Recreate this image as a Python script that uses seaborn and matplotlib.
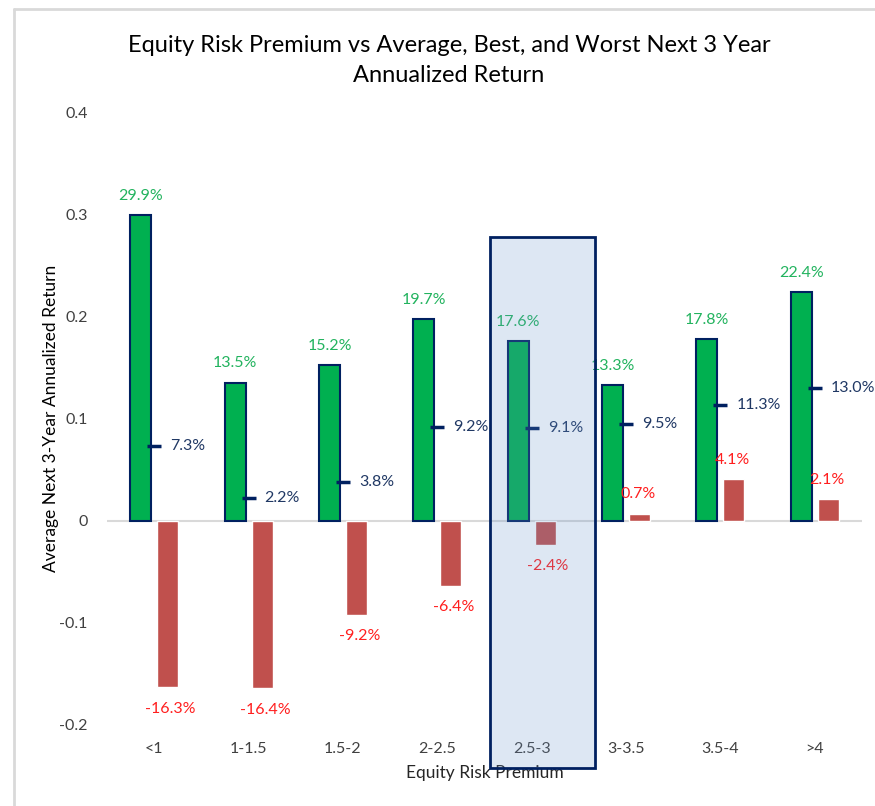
import pandas as pd
import matplotlib.pyplot as plt
import seaborn as sns
from matplotlib.patches import Rectangle
from matplotlib.lines import Line2D
from matplotlib.ticker import FuncFormatter

# --- Data (returns in %) ---
categories = ["<1", "1-1.5", "1.5-2", "2-2.5", "2.5-3", "3-3.5", "3.5-4", ">4"]
best = [29.9, 13.5, 15.2, 19.7, 17.6, 13.3, 17.8, 22.4]
average = [7.3, 2.2, 3.8, 9.2, 9.1, 9.5, 11.3, 13.0]
worst = [-16.3, -16.4, -9.2, -6.4, -2.4, 0.7, 4.1, 2.1]
highlight = "2.5-3"

GREEN = "#00B050"
RED = "#C0504D"
NAVY = "#002060"

df = pd.DataFrame({
    "erp": categories * 2,
    "ret": [v / 100 for v in best] + [v / 100 for v in worst],
    "series": ["Best"] * len(best) + ["Worst"] * len(worst),
})

sns.set_theme(style="white")
plt.rcParams["font.family"] = ["Lato", "DejaVu Sans"]

fig = plt.figure(figsize=(8.75, 8.06), dpi=100)
ax = fig.add_axes([107 / 875, 1 - 725 / 806, 755 / 875, 613 / 806])

sns.barplot(data=df, x="erp", y="ret", hue="series", order=categories,
            palette={"Best": GREEN, "Worst": RED}, width=0.572, gap=0.22,
            saturation=1, legend=False, ax=ax)

# navy outline on the green bars only
for patch in ax.patches[:len(best)]:
    patch.set_edgecolor(NAVY)
    patch.set_linewidth(1.5)

# average markers
sns.scatterplot(x=categories, y=[v / 100 for v in average], marker="_", s=110,
                linewidth=2.5, color=NAVY, zorder=4, ax=ax)

bars_best = ax.patches[:len(best)]
bars_worst = ax.patches[len(best):2 * len(best)]
for i, (b, a, w) in enumerate(zip(best, average, worst)):
    pb = bars_best[i]
    ax.text(pb.get_x() + pb.get_width() / 2, b / 100 + 0.012, f"{b:.1f}%",
            ha="center", va="bottom", color="#22B35E", fontsize=11.5)
    ax.text(i + 0.17, a / 100, f"{a:.1f}%", ha="left", va="center",
            color="#203864", fontsize=11.5)
    pw = bars_worst[i]
    if w < 0:
        ax.text(pw.get_x() + pw.get_width() / 2 + 0.03, w / 100 - 0.014, f"{w:.1f}%",
                ha="center", va="top", color="#FF1F1F", fontsize=11.5)
    else:
        ax.text(pw.get_x() + pw.get_width() / 2 - 0.02, w / 100 + 0.012, f"{w:.1f}%",
                ha="center", va="bottom", color="#FF1F1F", fontsize=11.5)

# highlight box around one category
hi = categories.index(highlight)
box_kw = dict(xy=(hi - 0.443, -0.2416), width=1.112, height=0.5194, clip_on=False)
ax.add_patch(Rectangle(**box_kw, facecolor="#6793C9", alpha=0.22, edgecolor="none", zorder=5))
ax.add_patch(Rectangle(**box_kw, facecolor="none", edgecolor=NAVY, linewidth=2, zorder=6))

ax.axhline(0, color="#D9D9D9", linewidth=1.5, zorder=0)
ax.set_xlim(-0.5, len(categories) - 0.5)
ax.set_ylim(-0.2, 0.4)
ax.set_yticks([-0.2, -0.1, 0, 0.1, 0.2, 0.3, 0.4])
ax.yaxis.set_major_formatter(FuncFormatter(lambda v, _: f"{v:g}"))
ax.tick_params(axis="both", length=0, labelsize=11.5, labelcolor="#404040")
ax.tick_params(axis="x", pad=12)
ax.tick_params(axis="y", pad=14)
sns.despine(ax=ax, left=True, bottom=True)

ax.set_xlabel("Equity Risk Premium", fontsize=12.5, color="#262626", labelpad=7)
ax.set_ylabel("Average Next 3-Year Annualized Return", fontsize=12.5, color="#000000", labelpad=0)

fig.text(0.513, 1 - 45 / 806, "Equity Risk Premium vs Average, Best, and Worst Next 3 Year",
         ha="center", va="center", fontsize=17, color="#000000")
fig.text(0.513, 1 - 75 / 806, "Annualized Return",
         ha="center", va="center", fontsize=17, color="#000000")

# chart area border (partially visible)
fig.add_artist(Line2D([14 / 875, 14 / 875], [0, 1 - 9 / 806], transform=fig.transFigure,
                      color="#D9D9D9", linewidth=2))
fig.add_artist(Line2D([14 / 875, 1], [1 - 9 / 806, 1 - 9 / 806], transform=fig.transFigure,
                      color="#D9D9D9", linewidth=2))

fig.savefig("out.png", dpi=100)
plt.close(fig)
